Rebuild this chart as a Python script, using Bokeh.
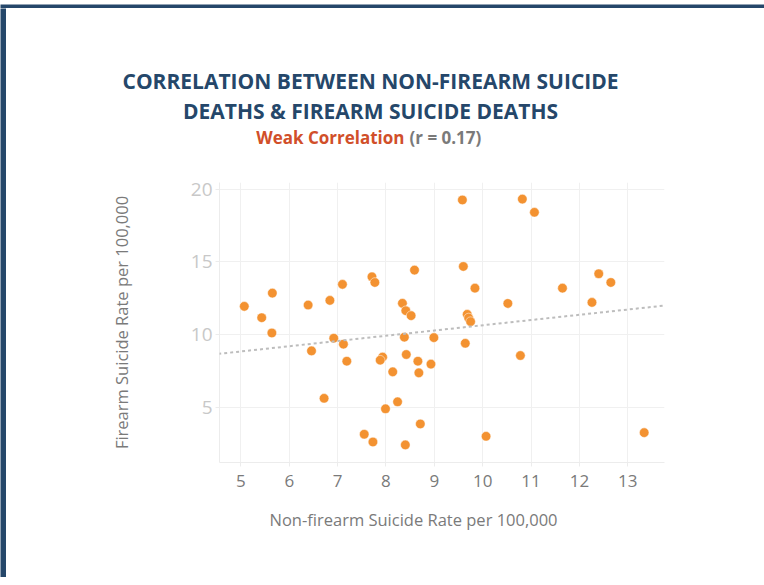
import math
from bokeh.plotting import figure
from bokeh.layouts import column, row
from bokeh.models import Label, Range1d, Slope, FixedTicker, ColumnDataSource, Title
from bokeh.embed import file_html
from bokeh.resources import INLINE

# ---- data ----
non_firearm_rate = [5.07, 5.43, 5.65, 5.64, 6.39, 6.46, 6.84, 6.92, 7.10, 7.12,
                    7.19, 6.72, 7.71, 7.77, 7.93, 7.88, 8.14, 7.99, 8.24, 7.55,
                    7.73, 8.34, 9.58, 10.82, 11.07, 8.59, 9.60, 9.84, 10.52, 11.65,
                    12.40, 12.65, 12.26, 8.41, 8.52, 9.68, 9.71, 9.75, 8.38, 8.99,
                    9.64, 8.42, 8.66, 8.93, 8.68, 10.78, 8.71, 8.40, 10.07, 13.34]
firearm_rate = [11.94, 11.16, 12.85, 10.11, 12.03, 8.88, 12.35, 9.75, 13.45, 9.34,
                8.17, 5.62, 13.97, 13.58, 8.45, 8.24, 7.44, 4.90, 5.38, 3.15,
                2.62, 12.15, 19.25, 19.31, 18.40, 14.43, 14.68, 13.19, 12.14, 13.19,
                14.18, 13.58, 12.21, 11.64, 11.30, 11.39, 11.14, 10.89, 9.82, 9.79,
                9.40, 8.63, 8.17, 7.97, 7.37, 8.56, 3.86, 2.42, 3.01, 3.26]
trend_slope = 0.36
trend_intercept = 7.04
x_ticks = [5, 6, 7, 8, 9, 10, 11, 12, 13]
y_ticks = [5, 10, 15, 20]

title_lines = ["CORRELATION BETWEEN NON-FIREARM SUICIDE", "DEATHS & FIREARM SUICIDE DEATHS"]
subtitle_main = "Weak Correlation"
subtitle_r = "(r = 0.17)"
x_label = "Non-firearm Suicide Rate per 100,000"
y_label = "Firearm Suicide Rate per 100,000"

FONT = "Open Sans"
NAVY = "#25476a"
GREY = "#7a7a7a"

TOTAL_W, TOTAL_H = 764, 577
BAND_TOP, BAND_LEFT = 8, 6
CW = TOTAL_W - BAND_LEFT          # content width
TITLE_H, MAIN_H = 152, 340
BOTTOM_H = TOTAL_H - BAND_TOP - TITLE_H - MAIN_H
BL, BR = 213, 100                  # shared left / right borders (plot frame 219..664 on page)
FRAME_X = (219, 664)               # page-pixel coordinates used by the text strips


def strip(w, h, fill="white", xr=(0, 1), yr=(0, 1), **kw):
    f = figure(width=w, height=h, output_backend="svg", toolbar_location=None,
               x_range=Range1d(*xr), y_range=Range1d(*yr),
               x_axis_type=None, y_axis_type=None, **kw)
    f.outline_line_color = None
    f.background_fill_color = fill
    f.border_fill_color = fill
    f.grid.visible = False
    return f


# decorative navy frame bands
top_band = strip(TOTAL_W, BAND_TOP, fill=NAVY, min_border=0)
left_band = strip(BAND_LEFT, TOTAL_H - BAND_TOP, fill=NAVY, min_border=0)

# ---- title block (page-pixel coords: y range 160 (bottom) .. 125 (top)) ----
tfig = strip(CW, TITLE_H, xr=FRAME_X, yr=(160, 125),
             min_border_left=BL, min_border_right=BR, min_border_top=117,
             min_border_bottom=0)
tfig.add_layout(Title(text=title_lines[1], align="left", offset=-36.5, standoff=0,
                      vertical_align="middle", text_font=FONT, text_font_style="bold",
                      text_font_size="21px", text_color=NAVY), "above")
tfig.add_layout(Title(text=title_lines[0], align="left", offset=-97, standoff=0,
                      vertical_align="middle", text_font=FONT, text_font_style="bold",
                      text_font_size="21px", text_color=NAVY), "above")
tfig.add_layout(Label(x=404, y=136.5, text=subtitle_main, text_font=FONT,
                      text_font_style="bold", text_font_size="17px", text_color="#d14f2a",
                      text_align="right", text_baseline="middle"))
tfig.add_layout(Label(x=409, y=136.5, text=subtitle_r, text_font=FONT,
                      text_font_style="bold", text_font_size="17px", text_color=GREY,
                      text_align="left", text_baseline="middle"))

# ---- main scatter ----
p = figure(width=CW, height=MAIN_H, output_backend="svg", toolbar_location=None,
           x_range=Range1d(4.557, 13.76), y_range=Range1d(1.21, 20.45),
           min_border_left=BL, min_border_right=BR, min_border_top=22,
           min_border_bottom=38)
p.outline_line_color = None
p.background_fill_color = "white"
p.border_fill_color = "white"

for ax, ticks in ((p.xaxis, x_ticks), (p.yaxis, y_ticks)):
    ax.ticker = FixedTicker(ticks=ticks)
    ax.axis_line_color = "#ececec"
    ax.major_tick_line_color = "#ececec"
    ax.major_tick_out = 4
    ax.major_tick_in = 0
    ax.minor_tick_line_color = None
    ax.major_label_text_font = FONT
    ax.axis_label_text_font = FONT
    ax.axis_label_text_font_style = "normal"
    ax.axis_label_text_font_size = "16.5px"
    ax.axis_label_text_color = GREY

p.yaxis.axis_label = y_label
p.yaxis.axis_label_standoff = 55

p.xaxis.major_label_text_font_size = "17px"
p.xaxis.major_label_text_color = GREY
p.xaxis.major_label_standoff = 8
p.yaxis.major_label_text_font_size = "19px"
p.yaxis.major_label_text_color = "#c8c8c8"
p.yaxis.major_label_standoff = 3

p.xgrid.ticker = FixedTicker(ticks=x_ticks)
p.ygrid.ticker = FixedTicker(ticks=y_ticks)
p.grid.grid_line_color = "#f0f0f0"
p.grid.grid_line_width = 1

src = ColumnDataSource(dict(x=non_firearm_rate, y=firearm_rate))
p.scatter("x", "y", source=src, size=9.6, fill_color="#f39231",
          line_color="white", line_width=0.5)

p.add_layout(Slope(gradient=trend_slope, y_intercept=trend_intercept,
                   line_color="#bdbdbd", line_width=2, line_dash="3 3"))

# ---- x-axis title strip (page-pixel coords: y 577 (bottom) .. 500 (top)) ----
bfig = strip(CW, BOTTOM_H, xr=FRAME_X, yr=(500 + BOTTOM_H, 500),
             min_border_left=BL, min_border_right=BR, min_border_top=0,
             min_border_bottom=0)
bfig.add_layout(Label(x=413, y=519, text=x_label, text_font=FONT,
                      text_font_size="16.5px", text_color=GREY,
                      text_align="center", text_baseline="middle"))

layout = column(top_band, row(left_band, column(tfig, p, bfig)))

open("out.html", "w").write(file_html(layout, INLINE))
